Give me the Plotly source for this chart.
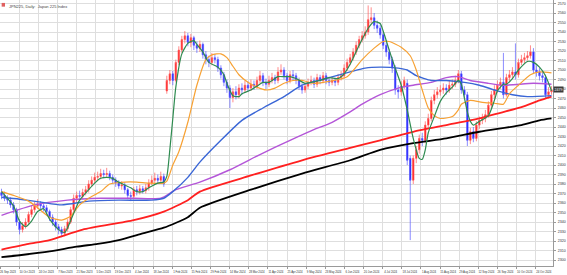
import plotly.graph_objects as go

# ---------------- data ----------------
OPEN = [2371,2368,2365,2363,2358,2353,2340,2332,2336,2340,
        2348,2353,2357,2359,2357,2355,2351,2345,2340,2335,
        2332,2328,2333,2340,2353,2365,2368,2367,2371,2374,
        2380,2384,2387,2388,2391,2390,2391,2387,2384,2381,
        2378,2379,2374,2368,2367,2374,2372,2375,2373,2376,
        2381,2384,2386,2384,2388,2478,2489,2496,2489,2508,
        2521,2532,2536,2529,2534,2526,2523,2527,2516,2511,
        2508,2513,2511,2502,2495,2487,2481,2471,2477,2474,
        2481,2479,2484,2481,2485,2483,2489,2494,2487,2485,
        2489,2492,2489,2498,2500,2494,2489,2495,2494,2489,
        2483,2479,2483,2487,2489,2485,2492,2489,2494,2489,
        2487,2489,2487,2492,2494,2502,2508,2513,2519,2526,
        2532,2536,2540,2553,2555,2547,2544,2537,2526,2519,
        2511,2502,2479,2477,2483,2486,2407,2384,2407,2416,
        2428,2426,2442,2449,2468,2474,2477,2479,2481,2479,
        2484,2485,2489,2496,2479,2474,2426,2435,2428,2442,
        2447,2449,2453,2463,2474,2479,2484,2487,2474,2492,
        2495,2498,2495,2508,2511,2513,2515,2519,2500,2498,
        2494,2492,2474,2477]
HIGH = [2375,2372,2368,2366,2361,2355,2343,2340,2344,2351,
        2357,2361,2364,2362,2360,2358,2353,2348,2343,2338,
        2335,2336,2343,2356,2369,2372,2373,2375,2378,2384,
        2388,2392,2393,2396,2395,2397,2394,2390,2387,2384,
        2383,2382,2376,2372,2377,2378,2379,2378,2380,2385,
        2389,2392,2390,2393,2391,2494,2500,2499,2511,2525,
        2536,2541,2539,2538,2536,2530,2531,2529,2520,2515,
        2518,2517,2514,2505,2498,2490,2484,2481,2483,2485,
        2486,2489,2488,2490,2489,2493,2499,2497,2491,2494,
        2497,2495,2503,2506,2503,2497,2499,2500,2497,2492,
        2486,2487,2491,2494,2492,2496,2495,2498,2497,2493,
        2493,2492,2496,2499,2506,2512,2517,2523,2530,2536,
        2541,2546,2568,2566,2560,2552,2548,2540,2529,2522,
        2514,2505,2484,2488,2493,2490,2410,2410,2420,2432,
        2434,2446,2454,2472,2479,2482,2484,2486,2485,2489,
        2490,2494,2500,2499,2483,2477,2439,2440,2446,2451,
        2454,2458,2467,2478,2484,2489,2492,2518,2496,2500,
        2503,2528,2512,2516,2518,2520,2526,2523,2505,2502,
        2499,2495,2482,2483]
LOW = [2364,2362,2359,2355,2349,2336,2327,2329,2333,2338,
       2345,2350,2354,2353,2351,2347,2341,2336,2331,2327,
       2324,2325,2330,2338,2350,2361,2363,2364,2368,2371,
       2377,2381,2384,2385,2386,2387,2384,2380,2377,2375,
       2374,2370,2364,2362,2364,2368,2369,2370,2370,2373,
       2379,2381,2380,2381,2377,2475,2485,2484,2487,2505,
       2518,2528,2525,2524,2521,2518,2519,2512,2506,2503,
       2505,2507,2498,2491,2483,2476,2460,2466,2469,2470,
       2474,2476,2477,2478,2479,2480,2486,2483,2480,2482,
       2486,2485,2486,2495,2490,2485,2486,2489,2485,2479,
       2475,2476,2480,2484,2481,2482,2485,2486,2485,2483,
       2484,2483,2484,2489,2491,2499,2505,2510,2516,2523,
       2529,2533,2537,2549,2543,2539,2533,2522,2514,2506,
       2497,2474,2470,2473,2480,2400,2321,2380,2402,2412,
       2420,2423,2438,2446,2464,2470,2473,2475,2474,2476,
       2480,2482,2486,2475,2469,2420,2422,2424,2425,2438,
       2443,2445,2450,2460,2470,2476,2480,2470,2472,2488,
       2491,2490,2492,2505,2507,2510,2512,2496,2493,2489,
       2487,2470,2470,2474]
CLOSE = [2368,2365,2363,2358,2353,2340,2332,2336,2340,2348,
         2353,2357,2359,2357,2355,2351,2345,2340,2335,2332,
         2328,2333,2340,2353,2365,2368,2367,2371,2374,2380,
         2384,2387,2388,2391,2390,2391,2387,2384,2381,2378,
         2379,2374,2368,2367,2374,2372,2375,2373,2376,2381,
         2384,2386,2384,2388,2380,2489,2496,2489,2508,2521,
         2532,2536,2529,2534,2526,2523,2527,2516,2511,2508,
         2513,2511,2502,2495,2487,2481,2471,2477,2474,2481,
         2479,2484,2481,2485,2483,2489,2494,2487,2485,2489,
         2492,2489,2498,2500,2494,2489,2495,2494,2489,2483,
         2479,2483,2487,2489,2485,2492,2489,2494,2489,2487,
         2489,2487,2492,2494,2502,2508,2513,2519,2526,2532,
         2536,2540,2553,2555,2547,2544,2537,2526,2519,2511,
         2502,2479,2477,2483,2489,2405,2384,2407,2416,2428,
         2426,2442,2449,2468,2474,2477,2479,2481,2479,2484,
         2485,2489,2496,2479,2474,2426,2435,2428,2442,2447,
         2449,2453,2463,2474,2479,2484,2487,2474,2492,2495,
         2498,2495,2508,2511,2513,2515,2519,2500,2498,2494,
         2492,2474,2477,2479]

# moving averages (bar index, value)
GREEN_X = [0,4,6,8,10,12,14,16,19,21,22,24,26,29,31,33,35,37,39,41,43,45,47,49,52,54,55,56,57,58,
           60,62,64,65,67,69,72,74,75,77,79,80,83,85,87,89,92,94,96,98,101,103,106,109,112,114,116,119,122,124,
           126,127,129,131,133,135,137,139,140,141,142,144,146,148,150,152,153,154,155,156,157,159,162,164,165,
           167,168,170,172,175,177,179,181,183]
GREEN_Y = [2372,2357,2341,2335,2341,2351,2354,2343,2332,2329,2334,2349,2363,2374,2381,2386,2387,2386,2382,2379,
           2376,2372,2372,2376,2381,2382,2388,2416,2449,2482,2517,2528,2531,2527,2519,2508,2503,2495,2486,2473,
           2472,2475,2479,2483,2487,2487,2493,2493,2493,2491,2486,2487,2489,2492,2491,2496,2506,2526,2544,2551,
           2549,2541,2521,2502,2484,2458,2428,2407,2406,2416,2434,2451,2467,2476,2482,2489,2485,2471,2456,2446,
           2442,2446,2452,2468,2478,2485,2485,2491,2500,2509,2508,2503,2494,2478]
ORANGE_X = [0,4,9,12,16,20,23,26,29,33,36,41,45,49,54,55,57,59,62,65,68,70,73,75,77,79,82,85,88,91,
            94,97,100,104,109,115,120,124,127,129,133,136,138,140,142,144,146,150,152,153,156,160,164,167,169,
            172,176,179,183]
ORANGE_Y = [2372,2368,2362,2355,2345,2342,2346,2358,2365,2372,2380,2382,2382,2381,2381,2383,2400,2414,2445,2484,
            2511,2516,2517,2513,2504,2495,2487,2482,2479,2481,2486,2489,2489,2486,2488,2493,2511,2523,2530,2530,
            2524,2515,2500,2479,2460,2452,2449,2451,2458,2464,2468,2466,2465,2464,2475,2484,2495,2498,2497]
BLUE_X = [0,6,13,20,29,39,50,54,57,62,66,73,80,87,94,100,109,116,121,126,132,135,138,143,148,154,159,165,170,175,183]
BLUE_Y = [2366,2364,2361,2358,2362,2363,2363,2365,2372,2387,2403,2426,2447,2460,2472,2484,2492,2498,2502,2503,
          2502,2500,2494,2489,2489,2487,2484,2478,2474,2472,2473]
PURPLE_X = [0,11,22,33,44,53,58,66,76,86,96,103,110,116,120,126,132,137,143,148,152,156,162,167,177,183]
PURPLE_Y = [2347,2358,2363,2365,2365,2365,2374,2382,2395,2411,2426,2436,2445,2456,2464,2474,2481,2484,2487,2492,
            2493,2489,2486,2484,2486,2485]
RED_X = [0,9,16,27,44,54,62,66,83,100,116,126,137,148,159,166,173,179,183]
RED_Y = [2311,2317,2321,2332,2342,2351,2363,2372,2389,2405,2418,2426,2435,2442,2449,2455,2461,2468,2472]
BLACK_X = [0,6,16,25,32,39,47,54,62,66,83,100,116,126,137,148,159,173,179,183]
BLACK_Y = [2303,2305,2309,2314,2317,2321,2328,2334,2345,2355,2374,2391,2405,2416,2423,2428,2435,2442,2447,2449]

DATE_LABELS = ["26 Sep 2023","10 Oct 2023","24 Oct 2023","7 Nov 2023","21 Nov 2023","5 Dec 2023",
               "19 Dec 2023","4 Jan 2024","18 Jan 2024","1 Feb 2024","15 Feb 2024","29 Feb 2024",
               "14 Mar 2024","28 Mar 2024","11 Apr 2024","25 Apr 2024","9 May 2024","23 May 2024",
               "6 Jun 2024","20 Jun 2024","4 Jul 2024","18 Jul 2024","1 Aug 2024","15 Aug 2024",
               "29 Aug 2024","12 Sep 2024","26 Sep 2024","10 Oct 2024","24 Oct 2024"]
TITLE = "JPN225, Daily:  Japan 225 Index"
LAST_PRICE = CLOSE[-1]

# ---------------- figure ----------------
N = len(CLOSE)
idx = list(range(N))
fig = go.Figure()
fig.add_trace(go.Candlestick(
    x=idx, open=OPEN, high=HIGH, low=LOW, close=CLOSE,
    increasing=dict(line=dict(color="#ff5a5a", width=0.7), fillcolor="#ff1a1a"),
    decreasing=dict(line=dict(color="#5a5aff", width=0.7), fillcolor="#1a1aff"),
    whiskerwidth=0, showlegend=False, hoverinfo="skip"))

def ma(xs, ys, color, width):
    fig.add_trace(go.Scatter(x=xs, y=ys, mode="lines",
                             line=dict(color=color, width=width, shape="spline", smoothing=0.6),
                             showlegend=False, hoverinfo="skip"))

ma(BLACK_X, BLACK_Y, "#000000", 1.8)
ma(RED_X, RED_Y, "#ff2020", 1.8)
ma(PURPLE_X, PURPLE_Y, "#b455d8", 1.4)
ma(BLUE_X, BLUE_Y, "#3a66d6", 1.4)
ma(ORANGE_X, ORANGE_Y, "#f7a133", 1.2)
ma(GREEN_X, GREEN_Y, "#2e8b50", 1.2)

step_px = 19.1
tickvals = [-0.5 + k * step_px / 3 for k in range(len(DATE_LABELS))]

font = dict(family="Liberation Sans, Arial", size=3.6, color="#333333")
xfont = dict(family="Liberation Sans, Arial", size=2.8, color="#333333")
fig.update_layout(
    width=567, height=275,
    margin=dict(l=0, r=14, t=0, b=9, autoexpand=False),
    paper_bgcolor="white", plot_bgcolor="white",
    font=font,
    xaxis=dict(range=[-0.5, N - 0.5], rangeslider=dict(visible=False), automargin=False,
               tickmode="array", tickvals=tickvals, ticktext=DATE_LABELS, tickangle=0,
               showgrid=True, gridcolor="#dedede", gridwidth=1,
               zeroline=False, showline=True, linecolor="#9a9a9a", linewidth=1, mirror=True,
               ticks="outside", ticklen=2, tickcolor="#9a9a9a",
               tickfont=xfont, ticklabelshift=8, ticklabelstandoff=1),
    yaxis=dict(range=[2293.7, 2573.7], side="right", tick0=2300, dtick=10, automargin=False,
               showgrid=True, gridcolor="#dedede", gridwidth=1,
               zeroline=False, showline=True, linecolor="#9a9a9a", linewidth=1, mirror=True,
               ticks="outside", ticklen=2, tickcolor="#9a9a9a",
               tickfont=font, ticklabelstandoff=1),
)

fig.add_annotation(xref="paper", yref="paper", x=0.012, y=0.992, xanchor="left", yanchor="top",
                   text=TITLE, showarrow=False, font=dict(family="Liberation Sans, Arial", size=4, color="#444"))
fig.add_shape(type="rect", xref="paper", yref="paper", x0=0.003, x1=0.009, y0=0.975, y1=0.989,
              fillcolor="#e06060", line=dict(width=0))
fig.add_annotation(xref="paper", yref="y", x=1.0, y=LAST_PRICE, xanchor="left", yanchor="middle",
                   text=str(LAST_PRICE), showarrow=False, bgcolor="#3c3c3c", borderpad=0.5,
                   font=dict(family="Liberation Sans, Arial", size=3.6, color="white"))

fig.write_html("out.html")
